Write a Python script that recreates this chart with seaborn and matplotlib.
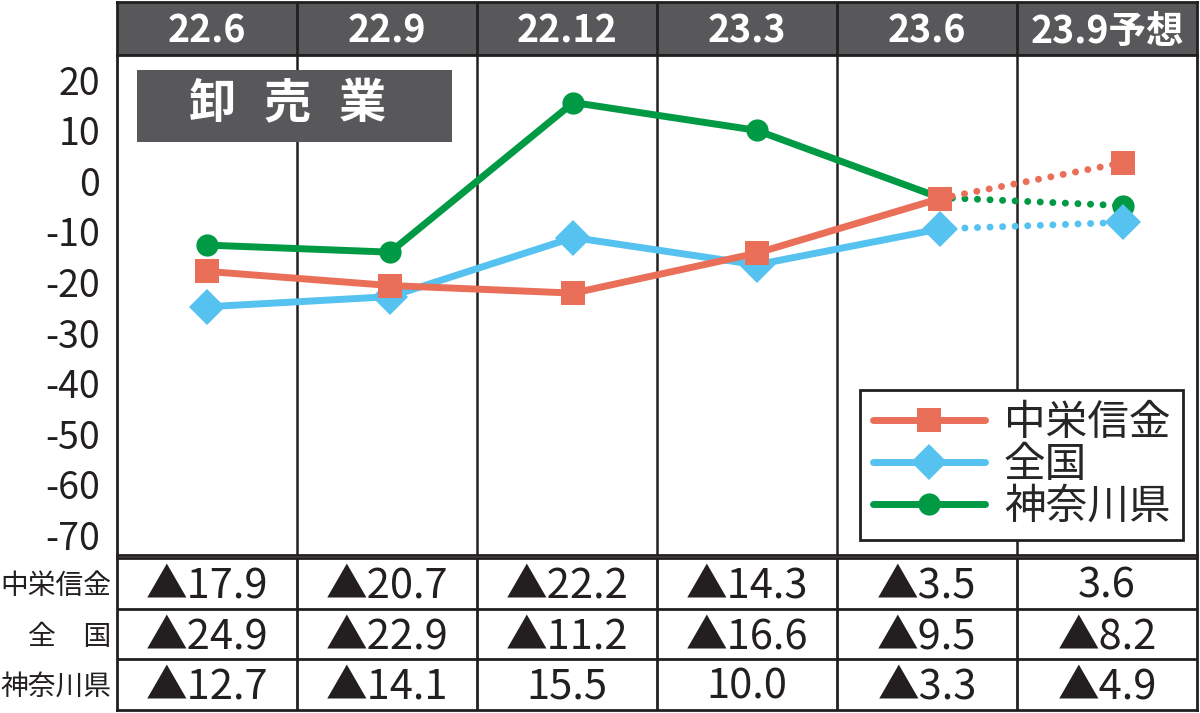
import matplotlib
matplotlib.use("Agg")
import matplotlib.pyplot as plt
from matplotlib.patches import Rectangle
import matplotlib.transforms as mtransforms
import seaborn as sns
import numpy as np

# data
periods = ["22.6", "22.9", "22.12", "23.3", "23.6", "23.9予想"]
chuei = [-17.9, -20.7, -22.2, -14.3, -3.5, 3.6]
zenkoku = [-24.9, -22.9, -11.2, -16.6, -9.5, -8.2]
kanagawa = [-12.7, -14.1, 15.5, 10.0, -3.3, -4.9]
names = ["中栄信金", "全国", "神奈川県"]
row_labels = ["中栄信金", "全　国", "神奈川県"]
yticks = [20, 10, 0, -10, -20, -30, -40, -50, -60, -70]

sns.set_style("white")
plt.rcParams["font.family"] = ["Noto Sans CJK JP", "DejaVu Sans"]

W, H = 1200, 713
fig = plt.figure(figsize=(12, 7.13), dpi=100)
x0 = 117 / W
wd = 1080 / W
ax_h = fig.add_axes([x0, (H - 55) / H, wd, 53 / H])
ax = fig.add_axes([x0, (H - 555) / H, wd, 500 / H])
ax_t = fig.add_axes([x0, 3 / H, wd, 152 / H])

dark = "#231f20"
gray = "#58585a"
cols = ["#ea6f59", "#55c2f0", "#009a44"]
marks = ["s", "D", "o"]
msizes = [17, 18, 16]
series = [chuei, zenkoku, kanagawa]
xs = np.arange(len(periods))

# header
ax_h.set_xlim(-0.5, 5.5)
ax_h.set_ylim(0, 1)
ax_h.set_facecolor(gray)
for i, p in enumerate(periods):
    ax_h.text(i, 0.45, p, ha="center", va="center", color="white",
              fontsize=27, fontweight="bold")
for b in np.arange(0.5, 5.5, 1):
    ax_h.axvline(b, color=dark, lw=2)
ax_h.set_xticks([])
ax_h.set_yticks([])
for s in ax_h.spines.values():
    s.set_color(dark)
    s.set_linewidth(2)

# main plot (points sit a little right of the column centres, as in the original)
ax.set_xlim(-0.491, 5.404)
ax.set_ylim(-74, 24.9)
trans = mtransforms.blended_transform_factory(ax.transAxes, ax.transAxes)
for b in range(1, 6):
    ax.plot([b / 6, b / 6], [0, 1], transform=trans, color=dark, lw=1.8, zorder=0)

order = [2, 1, 0]
for k in order:
    vals = series[k]
    sns.lineplot(x=xs[:5], y=vals[:5], ax=ax, color=cols[k], lw=5,
                 marker=marks[k], markersize=msizes[k], markeredgewidth=0,
                 label=names[k], zorder=3 + (2 - k))
    ax.plot(xs[4:], vals[4:], color=cols[k], lw=5, linestyle=(0, (0.01, 1.8)),
            dash_capstyle="round", zorder=2 + (2 - k))
    ax.plot(xs[5], vals[5], marker=marks[k], color=cols[k], markersize=msizes[k],
            markeredgewidth=0, zorder=3 + (2 - k))

ax.set_yticks(yticks)
ax.set_yticklabels([str(t) for t in yticks], fontsize=27)
ax.tick_params(axis="y", length=0, pad=12, colors=dark)
ax.set_xticks([])
ax.set_xlabel("")
ax.set_ylabel("")
for s in ax.spines.values():
    s.set_color(dark)
    s.set_linewidth(2)

# title box
ax.add_patch(Rectangle((20 / 1080, 413 / 500), 315 / 1080, 72 / 500,
                       transform=ax.transAxes, facecolor=gray, edgecolor="none", zorder=4))
for j, ch in enumerate("卸売業"):
    ax.text((212 + 75 * j - 117) / 1080, 451 / 500, ch, transform=ax.transAxes,
            ha="center", va="center", color="white", fontsize=34,
            fontweight="bold", zorder=5)

h, l = ax.get_legend_handles_labels()
hmap = dict(zip(l, h))
leg = ax.legend([hmap[n] for n in names], names, loc="lower right",
                bbox_to_anchor=(0.987, 0.03), fontsize=30, frameon=True,
                fancybox=False, edgecolor=dark, framealpha=1, handlelength=2.7,
                labelspacing=0.02, borderpad=0.3, handletextpad=0.45,
                borderaxespad=0)
leg.get_frame().set_linewidth(2)
leg.set_zorder(10)

# table
ax_t.set_xlim(-0.5, 5.5)
ax_t.set_ylim(0, 3)
for r, vals in enumerate(series):
    y = 2.5 - r
    for i, v in enumerate(vals):
        txt = f"▲{abs(v):.1f}" if v < 0 else f"{v:.1f}"
        ax_t.text(i, y - 0.05, txt, ha="center", va="center", fontsize=30, color=dark)
    ax_t.text(-0.53, y - 0.05, row_labels[r], ha="right", va="center",
              fontsize=20, color=dark, clip_on=False)
for b in np.arange(0.5, 5.5, 1):
    ax_t.axvline(b, color=dark, lw=2)
for yb in [1, 2]:
    ax_t.axhline(yb, color=dark, lw=2)
ax_t.set_xticks([])
ax_t.set_yticks([])
for s in ax_t.spines.values():
    s.set_color(dark)
    s.set_linewidth(2)

fig.savefig("out.png", dpi=100)
